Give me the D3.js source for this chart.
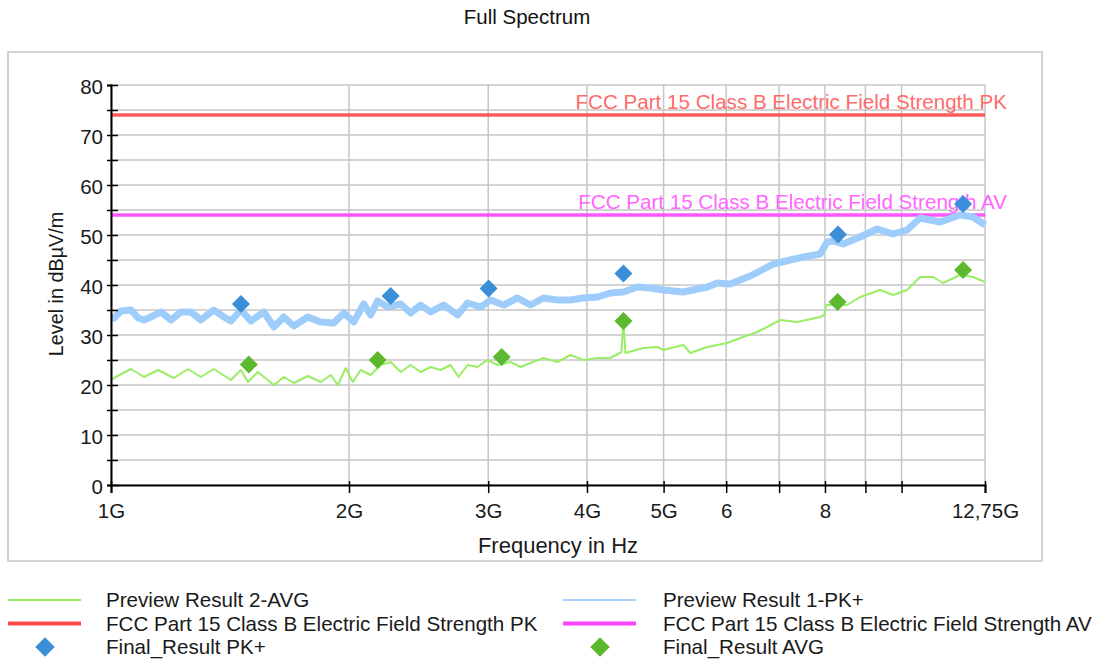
<!DOCTYPE html>
<html><head><meta charset="utf-8">
<script src="https://cdn.jsdelivr.net/npm/d3@7"></script>
<style>
html,body{margin:0;padding:0;background:#fff;}
svg text{font-family:"Liberation Sans",Arial,sans-serif;}
</style></head>
<body>
<svg id="chart" width="1102" height="663"></svg>
<script>
// ---------- data ----------
const freqTicks = [1,2,3,4,5,6,7,8,9,10,12.75];
const freqTickLabels = ["1G","2G","3G","4G","5G","6","","8","","","12,75G"];
const levelTicks = [0,5,10,15,20,25,30,35,40,45,50,55,60,65,70,75,80];
const levelTickLabels = ["0","","10","","20","","30","","40","","50","","60","","70","","80"];

const pkFreq = [1.000,1.009,1.030,1.060,1.082,1.101,1.123,1.157,1.191,1.226,1.262,1.299,1.349,1.377,1.418,1.460,1.503,1.561,1.607,1.654,1.703,1.774,1.842,1.913,1.970,2.028,2.088,2.130,2.174,2.238,2.325,2.393,2.464,2.537,2.635,2.744,2.825,2.934,3.021,3.137,3.267,3.393,3.524,3.671,3.812,3.959,4.124,4.283,4.448,4.633,4.811,4.997,5.296,5.679,5.847,6.072,6.436,6.882,7.231,7.509,7.889,8.051,8.193,8.435,8.862,9.312,9.756,10.162,10.554,11.186,11.856,12.313,12.75];
const pkLevel = [33.4,33.4,34.8,35.0,33.4,33.0,33.6,34.6,33.0,34.6,34.6,33.0,35.0,34.0,32.8,35.0,32.8,34.6,31.6,33.6,31.8,33.6,32.6,32.4,34.4,32.6,36.2,34.0,36.8,35.6,36.2,34.4,36.0,34.6,36.0,34.0,36.4,35.6,37.0,36.0,37.4,36.0,37.4,37.0,37.0,37.4,37.6,38.4,38.6,39.6,39.4,39.0,38.6,39.6,40.4,40.2,41.8,44.2,45.0,45.6,46.2,48.6,48.8,48.2,49.6,51.2,50.2,51.0,53.4,52.6,54.0,53.6,52.0];

const avgFreq = [1.000,1.009,1.036,1.060,1.101,1.147,1.201,1.251,1.299,1.349,1.418,1.460,1.490,1.534,1.607,1.654,1.703,1.774,1.842,1.897,1.936,1.981,2.022,2.069,2.130,2.193,2.258,2.325,2.393,2.464,2.537,2.612,2.689,2.752,2.825,2.908,2.994,3.083,3.201,3.296,3.393,3.524,3.671,3.812,3.959,4.124,4.283,4.422,4.448,4.474,4.714,4.910,4.997,5.296,5.405,5.679,6.020,6.252,6.569,7.023,7.379,7.889,7.981,8.028,8.534,8.862,9.393,9.756,10.162,10.554,10.960,11.284,11.856,12.313,12.75];
const avgLevel = [21.0,21.4,22.4,23.2,21.6,23.0,21.4,23.2,21.6,23.2,21.0,23.0,20.6,22.6,20.0,21.6,20.4,21.8,20.6,22.0,20.0,23.4,20.6,23.0,22.0,24.0,24.6,22.6,24.0,22.6,23.6,23.0,24.0,21.6,24.0,23.6,25.0,24.0,24.6,23.6,24.4,25.4,24.6,26.0,25.0,25.4,25.4,26.6,33.0,26.4,27.4,27.6,27.0,28.0,26.4,27.6,28.4,29.4,30.6,33.0,32.6,33.6,34.0,36.0,36.0,37.6,39.0,38.0,39.0,41.6,41.6,40.4,42.0,41.6,40.6];

const finalPkFreq = [1.460,2.258,3.003,4.448,8.31,11.96];
const finalPkLevel = [36.2,37.8,39.3,42.3,50.1,56.2];
const finalAvgFreq = [1.494,2.174,3.12,4.448,8.30,11.96];
const finalAvgLevel = [24.1,25.0,25.6,32.8,36.6,43.0];

const limitPK = 74;
const limitAV = 54;
const limitPKName = "FCC Part 15 Class B Electric Field Strength PK";
const limitAVName = "FCC Part 15 Class B Electric Field Strength AV";

const legendItems = [
  {name:"Preview Result 2-AVG", type:"line", color:"#99ee66", w:2},
  {name:"Preview Result 1-PK+", type:"line", color:"#a8d0ff", w:2},
  {name:limitPKName, type:"line", color:"#ff4a4a", w:4},
  {name:limitAVName, type:"line", color:"#ff44ff", w:4},
  {name:"Final_Result PK+", type:"diamond", color:"#3b8fd8"},
  {name:"Final_Result AVG", type:"diamond", color:"#5cb82e"}
];

// ---------- drawing ----------
const svg = d3.select("#chart");
const X0 = 111, X1 = 985, Y0 = 485, Y1 = 85;
const x = d3.scaleLog().domain([1,12.75]).range([X0,X1]);
const y = d3.scaleLinear().domain([0,80]).range([Y0,Y1]);

// title
svg.append("text").attr("x",527).attr("y",24).attr("text-anchor","middle")
  .attr("font-size",20.5).attr("fill","#111").text("Full Spectrum");

// outer frame
svg.append("rect").attr("x",8).attr("y",52).attr("width",1034).attr("height",509)
  .attr("fill","none").attr("stroke","#d3d3d3").attr("stroke-width",2);

// grid
const grid = svg.append("g");
grid.selectAll(".hg").data(levelTicks).join("line")
  .attr("x1",X0).attr("x2",X1).attr("y1",d=>y(d)).attr("y2",d=>y(d))
  .attr("stroke","#c6c6c6").attr("stroke-width",1.5);
grid.selectAll(".vg").data(freqTicks).join("line")
  .attr("x1",d=>x(d)).attr("x2",d=>x(d)).attr("y1",Y1).attr("y2",Y0)
  .attr("stroke","#c6c6c6").attr("stroke-width",1.5);

// limit lines
[[limitPK,"#ff4a4a"],[limitAV,"#ff44ff"]].forEach(([v,c])=>{
  svg.append("line").attr("x1",X0).attr("x2",X1).attr("y1",y(v)).attr("y2",y(v))
    .attr("stroke",c).attr("stroke-width",3.5).attr("opacity",0.9);
});

// traces
const line = d3.line().x(d=>x(d[0])).y(d=>y(d[1]));
svg.append("path").datum(pkFreq.map((f,i)=>[f,pkLevel[i]]))
  .attr("d",line).attr("fill","none").attr("stroke","#9fcdfb")
  .attr("stroke-width",7).attr("stroke-linejoin","round");
svg.append("path").datum(avgFreq.map((f,i)=>[f,avgLevel[i]]))
  .attr("d",line).attr("fill","none").attr("stroke","#99ee66")
  .attr("stroke-width",2).attr("stroke-linejoin","round");

// limit labels
svg.append("text").attr("x",1007).attr("y",y(limitPK)-6).attr("text-anchor","end")
  .attr("font-size",20.6).attr("fill","#ff5a5a").attr("opacity",0.9).text(limitPKName);
svg.append("text").attr("x",1007).attr("y",y(limitAV)-6).attr("text-anchor","end")
  .attr("font-size",20.6).attr("fill","#ff55ff").attr("opacity",0.9).text(limitAVName);

// markers
const diamond = d3.symbol().type(d3.symbolSquare).size(162);
function drawMarkers(fr, lv, color){
  svg.append("g").selectAll("path").data(fr.map((f,i)=>[f,lv[i]])).join("path")
    .attr("d",diamond)
    .attr("transform",d=>`translate(${x(d[0])},${y(d[1])}) rotate(45)`)
    .attr("fill",color);
}
drawMarkers(finalPkFreq, finalPkLevel, "#3b8fd8");
drawMarkers(finalAvgFreq, finalAvgLevel, "#5cb82e");

// y axis
const yAxis = d3.axisLeft(y).tickValues(levelTicks)
  .tickFormat((d,i)=>levelTickLabels[i]).tickSize(4).tickPadding(6);
const gy = svg.append("g").attr("transform",`translate(${X0},0)`).call(yAxis);
gy.select(".domain").attr("stroke","#000").attr("stroke-width",2);
gy.selectAll(".tick line").attr("x1",-4).attr("x2",7).attr("stroke","#000").attr("stroke-width",1.5);
gy.selectAll(".tick text").attr("font-size",20.5).attr("fill","#1a1a1a")
  .attr("font-family","Liberation Sans, Arial, sans-serif").attr("dy","0.4em").attr("x",-8);

// x axis
const xAxis = d3.axisBottom(x).tickValues(freqTicks)
  .tickFormat((d,i)=>freqTickLabels[i]).tickSize(8).tickPadding(10);
const gx = svg.append("g").attr("transform",`translate(0,${Y0})`).call(xAxis);
gx.select(".domain").attr("stroke","#000").attr("stroke-width",2);
gx.selectAll(".tick line").attr("y1",-4).attr("y2",8).attr("stroke","#000").attr("stroke-width",1.5);
gx.selectAll(".tick text").attr("font-size",20.5).attr("fill","#1a1a1a")
  .attr("font-family","Liberation Sans, Arial, sans-serif");

// axis titles
svg.append("text").attr("x",558).attr("y",553).attr("text-anchor","middle")
  .attr("font-size",22).attr("fill","#1a1a1a").text("Frequency in Hz");
svg.append("text").attr("transform","translate(63,284) rotate(-90)").attr("text-anchor","middle")
  .attr("font-size",19.8).attr("fill","#1a1a1a").text("Level in dBµV/m");

// legend
const lg = svg.append("g");
legendItems.forEach((it,i)=>{
  const col = i%2, row = Math.floor(i/2);
  const lx = col===0 ? 8 : 563;
  const tx = col===0 ? 106 : 663;
  const ly = 600 + row*23.5;
  if(it.type==="line"){
    lg.append("line").attr("x1",lx).attr("x2",lx+73).attr("y1",ly).attr("y2",ly)
      .attr("stroke",it.color).attr("stroke-width",it.w);
  } else {
    lg.append("path").attr("d",d3.symbol().type(d3.symbolSquare).size(190))
      .attr("transform",`translate(${lx+37},${ly}) rotate(45)`).attr("fill",it.color);
  }
  lg.append("text").attr("x",tx).attr("y",ly+7).attr("font-size",20.6)
    .attr("fill","#1a1a1a").text(it.name);
});
</script>
</body></html>
